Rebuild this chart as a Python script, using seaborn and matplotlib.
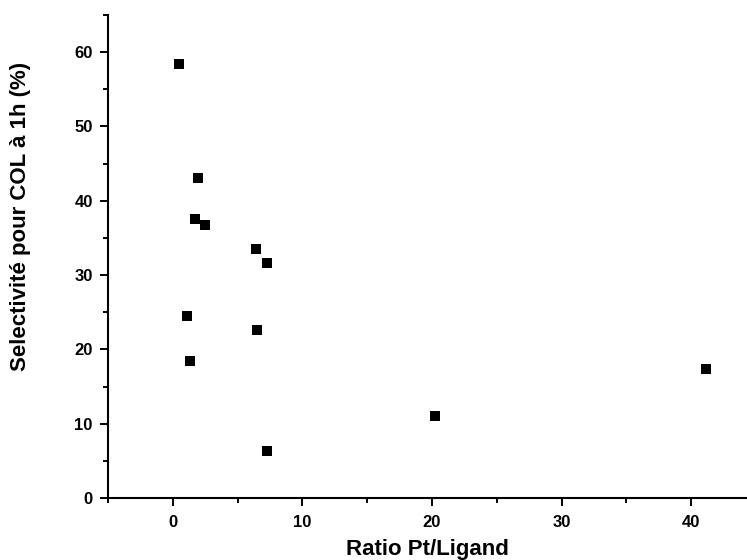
import matplotlib
matplotlib.use("Agg")
import matplotlib.pyplot as plt
import numpy as np
import pandas as pd
import seaborn as sns
from matplotlib.ticker import MultipleLocator

ratio = [0.45, 1.96, 1.68, 2.47, 6.44, 7.24, 1.08, 1.34, 6.47, 7.24, 20.25, 41.1]
selectivite = [58.4, 43.1, 37.5, 36.7, 33.5, 31.6, 24.5, 18.4, 22.6, 6.36, 10.97, 17.4]

sns.set_style("ticks")
plt.rcParams["font.family"] = ["Liberation Sans", "DejaVu Sans"]
plt.rcParams["font.weight"] = "bold"
plt.rcParams["text.color"] = "black"
plt.rcParams["axes.labelcolor"] = "black"

df = pd.DataFrame({"ratio": ratio, "sel": selectivite})

fig = plt.figure(figsize=(7.47, 5.6), dpi=100)
ax = fig.add_axes([0.1446, 0.1107, 0.8554, 0.8625])
sns.scatterplot(data=df, x="ratio", y="sel", marker="s", color="black",
                s=62, linewidth=0, ax=ax)

ax.set_xlim(-5, 44.3)
ax.set_ylim(0, 65)
ax.xaxis.set_major_locator(MultipleLocator(10))
ax.xaxis.set_minor_locator(MultipleLocator(5))
ax.yaxis.set_major_locator(MultipleLocator(10))
ax.yaxis.set_minor_locator(MultipleLocator(5))
ax.tick_params(which="major", length=6, width=1.4, labelsize=12, colors="black")
ax.tick_params(which="minor", length=3.3, width=1.4, colors="black")
ax.tick_params(axis="y", which="major", pad=5)
ax.tick_params(axis="x", which="major", pad=6)
for lbl in ax.get_xticklabels() + ax.get_yticklabels():
    lbl.set_fontweight("bold")

sns.despine(ax=ax)
for side in ("left", "bottom"):
    ax.spines[side].set_linewidth(1.5)
    ax.spines[side].set_color("black")

ax.set_xlabel("Ratio Pt/Ligand", fontsize=16, fontweight="bold", labelpad=7)
ax.set_ylabel("Selectivité pour COL à 1h (%)", fontsize=16, fontweight="bold")
ax.yaxis.set_label_coords(-0.12, 0.582)

fig.savefig("out.png", dpi=100)
